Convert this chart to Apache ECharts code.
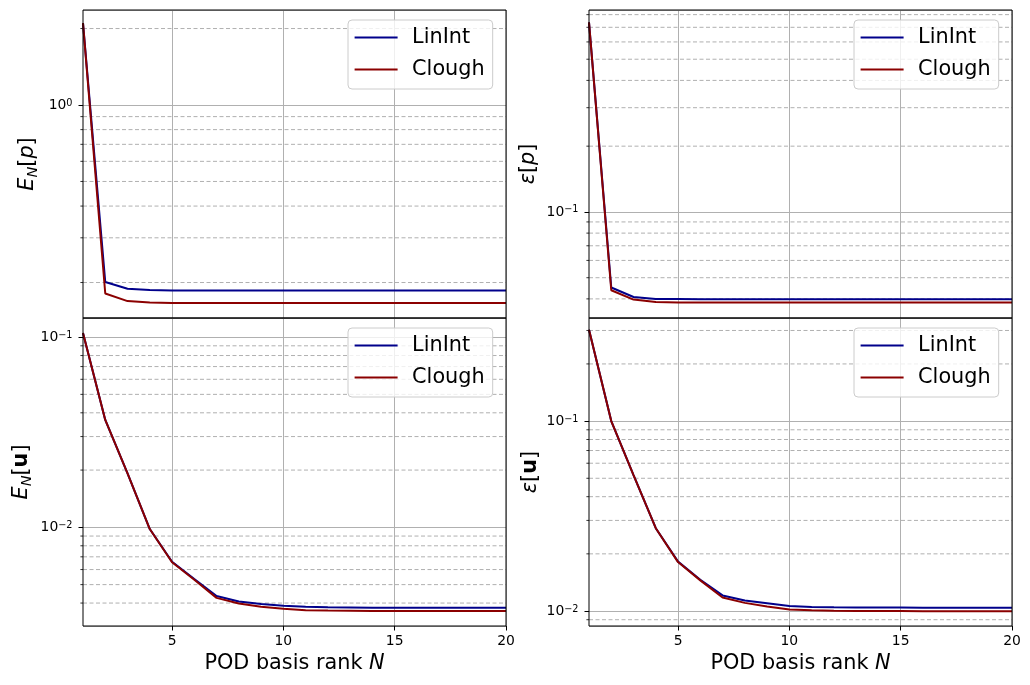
<!DOCTYPE html>
<html>
<head>
<meta charset="utf-8">
<script src="https://cdn.jsdelivr.net/npm/echarts@6/dist/echarts.min.js"></script>
<style>
html,body{margin:0;padding:0;background:#fff;}
#c{width:1030px;height:685px;}
</style>
</head>
<body>
<div id="c"></div>
<script>
// ---- data ----
const ranks = [1,2,3,4,5,6,7,8,9,10,11,12,13,14,15,16,17,18,19,20];
const xTicks = [5, 10, 15, 20];
const seriesNames = ['LinInt', 'Clough'];

const EpLinInt = [2.1, 0.201, 0.189, 0.187, 0.186, 0.186, 0.186, 0.186, 0.186, 0.186, 0.186, 0.186, 0.186, 0.186, 0.186, 0.186, 0.186, 0.186, 0.186, 0.186];
const EpClough = [2.1, 0.181, 0.169, 0.167, 0.166, 0.166, 0.166, 0.166, 0.166, 0.166, 0.166, 0.166, 0.166, 0.166, 0.166, 0.166, 0.166, 0.166, 0.166, 0.166];

const epsPLinInt = [0.737, 0.0451, 0.0408, 0.0400, 0.0399, 0.0398, 0.0398, 0.0398, 0.0398, 0.0398, 0.0398, 0.0398, 0.0398, 0.0398, 0.0398, 0.0398, 0.0398, 0.0398, 0.0398, 0.0398];
const epsPClough = [0.737, 0.0438, 0.0397, 0.0387, 0.0385, 0.0385, 0.0385, 0.0385, 0.0385, 0.0385, 0.0385, 0.0385, 0.0385, 0.0385, 0.0385, 0.0385, 0.0385, 0.0385, 0.0385, 0.0385];

const EuLinInt = [0.105, 0.0367, 0.0192, 0.0098, 0.00659, 0.00535, 0.00436, 0.00408, 0.00395, 0.00387, 0.00382, 0.00380, 0.00379, 0.00378, 0.00378, 0.00378, 0.00378, 0.00378, 0.00378, 0.00378];
const EuClough = [0.105, 0.0367, 0.0192, 0.0098, 0.00655, 0.00530, 0.00426, 0.00398, 0.00383, 0.00373, 0.00367, 0.00365, 0.00364, 0.00363, 0.00363, 0.00363, 0.00363, 0.00363, 0.00363, 0.00363];

const epsULinInt = [0.303, 0.100, 0.052, 0.0273, 0.0182, 0.0146, 0.01208, 0.01135, 0.0110, 0.01064, 0.0105, 0.01047, 0.01045, 0.01044, 0.01043, 0.01042, 0.01042, 0.01041, 0.01041, 0.0104];
const epsUClough = [0.303, 0.100, 0.052, 0.0273, 0.0181, 0.0145, 0.01179, 0.01104, 0.01055, 0.0102, 0.01008, 0.01003, 0.01001, 0.0100, 0.00999, 0.00998, 0.00998, 0.00997, 0.00997, 0.00997];

// minor (dashed) grid values per panel
const minorTL = [0.2, 0.3, 0.4, 0.5, 0.6, 0.7, 0.8, 0.9, 2];
const minorTR = [0.04, 0.05, 0.06, 0.07, 0.08, 0.09, 0.2, 0.3, 0.4, 0.5, 0.6, 0.7, 0.8];
const minorBL = [0.004, 0.005, 0.006, 0.007, 0.008, 0.009, 0.02, 0.03, 0.04, 0.05, 0.06, 0.07, 0.08, 0.09];
const minorBR = [0.009, 0.02, 0.03, 0.04, 0.05, 0.06, 0.07, 0.08, 0.09, 0.2, 0.3];

// y ranges per panel
const yRangeTL = [0.145, 2.366];
const yRangeTR = [0.0327, 0.84];
const yRangeBL = [0.00303, 0.126];
const yRangeBR = [0.00834, 0.349];
const xRange = [1, 20];

// ---- styling ----
const FONT = 'DejaVu Sans';
const C_LIN = '#00008b';
const C_CLO = '#8b0000';
const GRID_C = '#b0b0b0';
const TICK_FS = 13.9;
const BIG_FS = 20.8;

const panels = [
  {grid:{left:83, top:10, width:423, height:308}, y:yRangeTL, minor:minorTL, lin:EpLinInt, clo:EpClough,
   name:'{i|E}{sub|N}{n|[}{i|p}{n|]}', gap:45, xlab:false, legend:{left:348, top:20}},
  {grid:{left:589, top:10, width:423, height:308}, y:yRangeTR, minor:minorTR, lin:epsPLinInt, clo:epsPClough,
   name:'{i|ε}{n|[}{i|p}{n|]}', gap:50, xlab:false, legend:{left:854, top:20}},
  {grid:{left:83, top:318, width:423, height:308}, y:yRangeBL, minor:minorBL, lin:EuLinInt, clo:EuClough,
   name:'{i|E}{sub|N}{n|[}{bf|u}{n|]}', gap:51, xlab:true, legend:{left:348, top:328}},
  {grid:{left:589, top:318, width:423, height:308}, y:yRangeBR, minor:minorBR, lin:epsULinInt, clo:epsUClough,
   name:'{i|ε}{n|[}{bf|u}{n|]}', gap:48, xlab:true, legend:{left:854, top:328}}
];

const nameRich = {
  i:{fontFamily:FONT, fontSize:BIG_FS, fontStyle:'italic', color:'#000'},
  n:{fontFamily:FONT, fontSize:BIG_FS, color:'#000'},
  bf:{fontFamily:FONT, fontSize:BIG_FS, fontWeight:'bold', color:'#000'},
  sub:{fontFamily:FONT, fontSize:14.5, fontStyle:'italic', color:'#000', verticalAlign:'bottom', padding:[0,0,-3,0]}
};

function supLabel(v) {
  const e = Math.round(Math.log10(v));
  return '{b|10}{e|' + (e < 0 ? '\u2212' + (-e) : String(e)) + '}';
}

const option = {
  animation:false,
  backgroundColor:'#fff',
  grid:[], xAxis:[], yAxis:[], series:[], legend:[]
};

panels.forEach((p, k) => {
  option.grid.push(Object.assign({show:false, containLabel:false}, p.grid));
  option.xAxis.push({
    type:'value', gridIndex:k, min:xRange[0], max:xRange[1],
    axisLine:{show:false},
    axisTick:{show:p.xlab, length:4.5, lineStyle:{color:'#000', width:1}, customValues:xTicks},
    axisLabel:{show:p.xlab, customValues:xTicks, fontFamily:FONT, fontSize:TICK_FS, color:'#000', margin:8.5},
    splitLine:{show:true, lineStyle:{color:GRID_C, width:1}},
    name: p.xlab ? '{n|POD basis rank }{i|N}' : '',
    nameLocation:'middle', nameGap:27,
    nameTextStyle:{rich:nameRich, verticalAlign:'top'}
  });
  option.yAxis.push({
    type:'log', logBase:10, gridIndex:k, min:p.y[0], max:p.y[1],
    axisLine:{show:false},
    axisTick:{show:true, length:4.5, lineStyle:{color:'#000', width:1}},
    axisLabel:{showMinLabel:false, showMaxLabel:false, margin:10.5, formatter:supLabel,
      rich:{b:{fontFamily:FONT, fontSize:TICK_FS, color:'#000'}, e:{fontFamily:FONT, fontSize:9.7, color:'#000', verticalAlign:'top'}}},
    splitLine:{show:true, lineStyle:{color:GRID_C, width:1}},
    minorTick:{show:false}, minorSplitLine:{show:false},
    name:p.name, nameLocation:'middle', nameRotate:90, nameGap:p.gap,
    nameTextStyle:{rich:nameRich}
  });
  // minor dashed gridlines + minor ticks
  option.series.push({
    type:'custom', xAxisIndex:k, yAxisIndex:k, silent:true, z:1,
    data:p.minor.map(v => [xRange[0], v]),
    renderItem:function(params, api){
      const yv = api.value(1);
      const a = api.coord([xRange[0], yv]);
      const b = api.coord([xRange[1], yv]);
      return {type:'group', children:[
        {type:'line', shape:{x1:a[0], y1:a[1], x2:b[0], y2:b[1]}, style:{stroke:GRID_C, lineWidth:1, lineDash:[4,2.5]}},
        {type:'line', shape:{x1:a[0]-2.6, y1:a[1], x2:a[0], y2:a[1]}, style:{stroke:'#000', lineWidth:0.8}}
      ]};
    }
  });
  option.series.push({
    type:'line', name:seriesNames[0], xAxisIndex:k, yAxisIndex:k, z:3,
    data:ranks.map((n,i) => [n, p.lin[i]]), symbol:'none', showSymbol:false,
    lineStyle:{color:C_LIN, width:2}, itemStyle:{color:C_LIN}
  });
  option.series.push({
    type:'line', name:seriesNames[1], xAxisIndex:k, yAxisIndex:k, z:4,
    data:ranks.map((n,i) => [n, p.clo[i]]), symbol:'none', showSymbol:false,
    lineStyle:{color:C_CLO, width:2}, itemStyle:{color:C_CLO}
  });
  // black axes frame (spines), drawn over the data through the axis scales
  option.series.push({
    type:'custom', xAxisIndex:k, yAxisIndex:k, silent:true, z:6,
    data:[[xRange[0], p.y[0]]],
    renderItem:function(params, api){
      const a = api.coord([xRange[0], p.y[1]]);
      const b = api.coord([xRange[1], p.y[0]]);
      return {type:'rect', shape:{x:a[0], y:a[1], width:b[0]-a[0], height:b[1]-a[1]},
        style:{fill:null, stroke:'#000', lineWidth:1}};
    }
  });
  option.legend.push({
    data:seriesNames, left:p.legend.left, top:p.legend.top, orient:'vertical',
    icon:'rect', itemWidth:43, itemHeight:2, itemGap:11, padding:[7,8,9,6.6],
    backgroundColor:'rgba(255,255,255,0.8)', borderColor:'#cccccc', borderWidth:1, borderRadius:4,
    selectedMode:false, z:10,
    textStyle:{fontFamily:FONT, fontSize:BIG_FS, color:'#000', lineHeight:20, padding:[0,0,0,9.5]}
  });
});

const chart = echarts.init(document.getElementById('c'), null, {renderer:'canvas'});
chart.setOption(option);
</script>
</body>
</html>
